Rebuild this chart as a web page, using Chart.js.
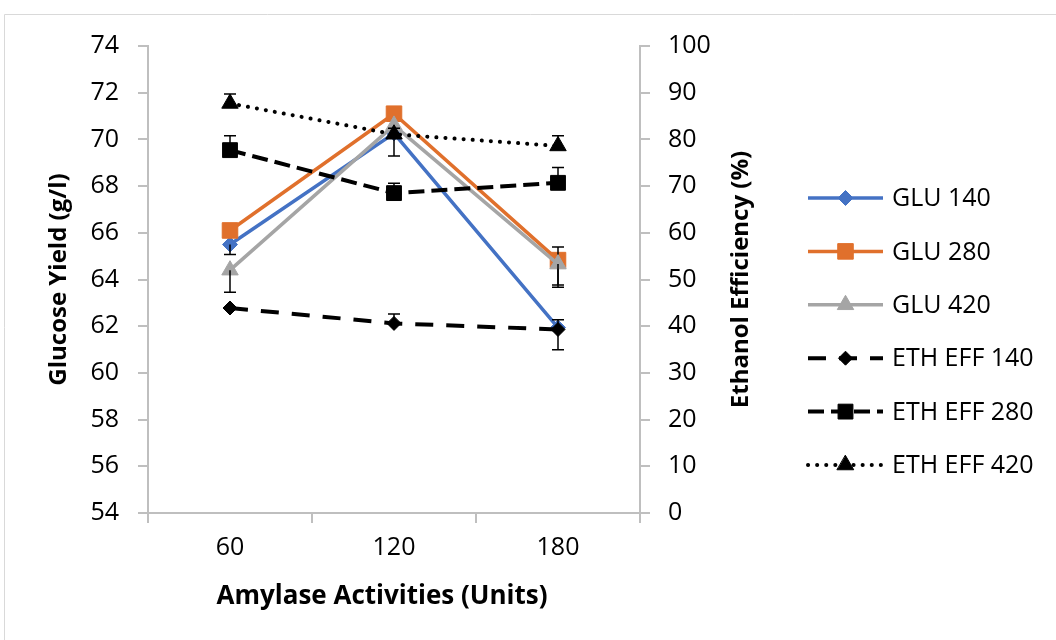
<!DOCTYPE html>
<html>
<head>
<meta charset="utf-8">
<script src="https://cdn.jsdelivr.net/npm/chart.js@4"></script>
<style>
  html, body { margin: 0; padding: 0; background: #fff; }
  #wrap { width: 1056px; height: 640px; position: relative; }
</style>
</head>
<body>
<div id="wrap"><canvas id="chart"></canvas></div>
<script>
const categories = ["60", "120", "180"];

// glucose yield (g/l), left axis
const glu140 = [65.5, 70.26, 61.94];
const glu280 = [66.1, 71.1, 64.83];
const glu420 = [64.4, 70.6, 64.66];
// error bars: up / down amounts
const glu140ErrUp = [0, 0, 0];
const glu140ErrDown = [0.43, 0.97, 0.95];
const glu280ErrUp = [0, 0, 0.56];
const glu280ErrDown = [0, 0, 1.07];
const glu420ErrUp = [0, 0, 0];
const glu420ErrDown = [0.95, 0, 0.99];

// ethanol efficiency (%), right axis
const eth140 = [43.9, 40.6, 39.3];
const eth280 = [77.7, 68.5, 70.7];
const eth420 = [87.7, 81.1, 78.6];
const eth140ErrUp = [0, 2.0, 2.1];
const eth280ErrUp = [3.1, 2.1, 3.3];
const eth420ErrUp = [2.0, 1.3, 2.2];
const noErr = [0, 0, 0];

const leftTicks = { min: 54, max: 74, step: 2 };
const rightTicks = { min: 0, max: 100, step: 10 };

const FONT = "'Open Sans', sans-serif";
const AXIS_GREY = "#BFBFBF";

const errorBars = {
  id: "errorBars",
  afterDatasetDraw(chart, args) {
    const ds = chart.data.datasets[args.index];
    if (!ds.errUp) return;
    const ctx = chart.ctx;
    const yScale = chart.scales[ds.yAxisID];
    ctx.save();
    ctx.strokeStyle = "#000";
    ctx.lineWidth = 1.5;
    ds.data.forEach((v, j) => {
      const up = ds.errUp[j], down = ds.errDown[j];
      if (!up && !down) return;
      const x = args.meta.data[j].x;
      const mid = yScale.getPixelForValue(v);
      ctx.beginPath();
      if (up) {
        const top = yScale.getPixelForValue(v + up);
        ctx.moveTo(x, mid); ctx.lineTo(x, top);
        ctx.moveTo(x - 6, top); ctx.lineTo(x + 6, top);
      }
      if (down) {
        const bot = yScale.getPixelForValue(v - down);
        ctx.moveTo(x, mid); ctx.lineTo(x, bot);
        ctx.moveTo(x - 6, bot); ctx.lineTo(x + 6, bot);
      }
      ctx.stroke();
    });
    ctx.restore();
  },
};

// frame, axis titles and line+marker legend
const extras = {
  id: "extras",
  beforeDraw(chart) {
    const ctx = chart.ctx;
    ctx.save();
    ctx.strokeStyle = "#D9D9D9";
    ctx.lineWidth = 1;
    ctx.beginPath();
    ctx.moveTo(4.5, 640); ctx.lineTo(4.5, 14.5); ctx.lineTo(1056, 14.5);
    ctx.stroke();
    ctx.restore();
  },
  afterDraw(chart) {
    const ctx = chart.ctx;
    const area = chart.chartArea;
    const midY = (area.top + area.bottom) / 2;
    ctx.save();
    ctx.fillStyle = "#000";
    ctx.textAlign = "center";
    ctx.textBaseline = "middle";
    ctx.font = "bold 26px " + FONT;
    ctx.fillText("Amylase Activities (Units)", 382, 597);
    ctx.font = "bold 24px " + FONT;
    [["Glucose Yield (g/l)", 59], ["Ethanol Efficiency (%)", 741]].forEach(([text, x]) => {
      ctx.save();
      ctx.translate(x, midY);
      ctx.rotate(-Math.PI / 2);
      ctx.fillText(text, 0, 0);
      ctx.restore();
    });
    ctx.restore();

    chart.data.datasets.forEach((ds, i) => {
      const y = 198 + i * 53.4;
      ctx.save();
      ctx.strokeStyle = ds.borderColor;
      ctx.lineWidth = ds.borderWidth;
      ctx.lineCap = ds.borderCapStyle || "butt";
      ctx.setLineDash(ds.borderDash || []);
      ctx.beginPath();
      ctx.moveTo(808, y); ctx.lineTo(883, y);
      ctx.stroke();
      ctx.setLineDash([]);
      ctx.fillStyle = ds.pointBackgroundColor;
      ctx.strokeStyle = ds.pointBackgroundColor;
      ctx.lineWidth = 1;
      Chart.helpers.drawPoint(ctx, { pointStyle: ds.pointStyle, radius: ds.pointRadius, borderWidth: 1, rotation: 0 }, 845.5, y);
      ctx.fillStyle = "#000";
      ctx.font = "25px " + FONT;
      ctx.textAlign = "left";
      ctx.textBaseline = "middle";
      ctx.fillText(ds.label, 892, y + 1);
      ctx.restore();
    });
  },
};

function series(label, data, errUp, errDown, color, style, radius, axis, order, dash, width, cap) {
  return {
    label, data, errUp, errDown,
    yAxisID: axis,
    order,
    borderColor: color,
    borderWidth: width,
    borderDash: dash,
    borderCapStyle: cap || "butt",
    pointStyle: style,
    pointRadius: radius,
    pointHoverRadius: radius,
    pointBackgroundColor: color,
    pointBorderColor: color,
    pointBorderWidth: 1,
    tension: 0,
    fill: false,
  };
}

const datasets = [
  series("GLU 140", glu140, glu140ErrUp, glu140ErrDown, "#4472C4", "rectRot", 7.5, "y", 6, [], 3.5),
  series("GLU 280", glu280, glu280ErrUp, glu280ErrDown, "#E0702C", "rect", 11, "y", 5, [], 3.5),
  series("GLU 420", glu420, glu420ErrUp, glu420ErrDown, "#A5A5A5", "triangle", 9.5, "y", 4, [], 3.5),
  series("ETH EFF 140", eth140, eth140ErrUp, noErr, "#000000", "rectRot", 7, "y1", 3, [18, 13], 4),
  series("ETH EFF 280", eth280, eth280ErrUp, noErr, "#000000", "rect", 10.5, "y1", 2, [16, 7], 4),
  series("ETH EFF 420", eth420, eth420ErrUp, noErr, "#000000", "triangle", 9.5, "y1", 1, [0.1, 9], 4, "round"),
];

new Chart(document.getElementById("chart"), {
  type: "line",
  data: { labels: categories, datasets },
  options: {
    responsive: true,
    maintainAspectRatio: false,
    animation: false,
    events: [],
    layout: { padding: { top: 46, left: 0, right: 0, bottom: 0 } },
    plugins: {
      legend: { display: false },
      tooltip: { enabled: false },
    },
    scales: {
      x: {
        offset: true,
        afterFit: (s) => { s.height = 127; },
        grid: { drawOnChartArea: false, color: AXIS_GREY, lineWidth: 2, tickLength: 10, offset: true },
        border: { color: AXIS_GREY, width: 2 },
        ticks: { color: "#000", padding: 10, font: { family: FONT, size: 25, lineHeight: 1.2 } },
      },
      y: {
        position: "left",
        min: leftTicks.min,
        max: leftTicks.max,
        afterFit: (s) => { s.width = 148; },
        grid: { drawOnChartArea: false, color: AXIS_GREY, lineWidth: 2, tickLength: 10 },
        border: { color: AXIS_GREY, width: 2 },
        ticks: { stepSize: leftTicks.step, color: "#000", padding: 19, font: { family: FONT, size: 25, lineHeight: 1.2 } },
      },
      y1: {
        position: "right",
        min: rightTicks.min,
        max: rightTicks.max,
        afterFit: (s) => { s.width = 416; },
        grid: { drawOnChartArea: false, color: AXIS_GREY, lineWidth: 2, tickLength: 10 },
        border: { color: AXIS_GREY, width: 2 },
        ticks: { stepSize: rightTicks.step, color: "#000", padding: 18, font: { family: FONT, size: 25, lineHeight: 1.2 } },
      },
    },
  },
  plugins: [errorBars, extras],
});
</script>
</body>
</html>
